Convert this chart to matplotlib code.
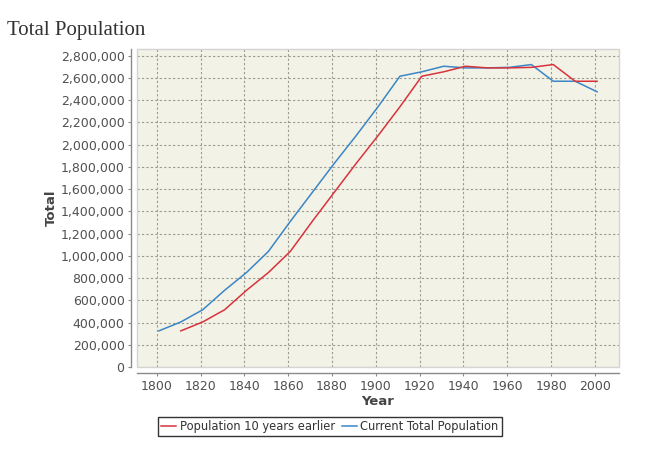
import matplotlib
matplotlib.use("Agg")
import matplotlib.pyplot as plt
from matplotlib.ticker import FuncFormatter, MultipleLocator
from matplotlib.patches import Rectangle

# Data
years_current = [1801, 1811, 1821, 1831, 1841, 1851, 1861, 1871, 1881, 1891, 1901,
                 1911, 1921, 1931, 1941, 1951, 1961, 1971, 1981, 1991, 2001]
current_pop = [325000, 405000, 515000, 690000, 850000, 1040000, 1310000, 1570000,
               1830000, 2080000, 2340000, 2615000, 2655000, 2705000, 2690000,
               2690000, 2695000, 2720000, 2570000, 2570000, 2475000]
years_earlier = [1811, 1821, 1831, 1841, 1851, 1861, 1871, 1881, 1891, 1901, 1911,
                 1921, 1931, 1941, 1951, 1961, 1971, 1981, 1991, 2001]
earlier_pop = [325000, 405000, 515000, 690000, 850000, 1040000, 1310000, 1570000,
               1830000, 2080000, 2340000, 2615000, 2655000, 2705000, 2690000,
               2690000, 2695000, 2720000, 2570000, 2570000]

title = "Total Population"
x_label = "Year"
y_label = "Total"
series_names = ["Population 10 years earlier", "Current Total Population"]

W, H = 653, 466
fig = plt.figure(figsize=(W / 100, H / 100), dpi=100)
L, R, T, B = 137, 619, 49, 367
ax = fig.add_axes([L / W, 1 - B / H, (R - L) / W, (B - T) / H])
ax.set_facecolor("#f3f2e6")

blue = "#3a86c6"
red = "#d8333c"
l2, = ax.plot(years_current, current_pop, color=blue, lw=1.1, zorder=3)
l1, = ax.plot(years_earlier, earlier_pop, color=red, lw=1.1, zorder=4)

ax.set_xlim(1791, 2011)
ax.set_ylim(0, 2860000)
ax.xaxis.set_major_locator(MultipleLocator(20))
ax.yaxis.set_major_locator(MultipleLocator(200000))
ax.yaxis.set_major_formatter(FuncFormatter(lambda v, p: f"{int(v):,}"))

ax.grid(True, color="#9a9a90", linestyle=(0, (2, 2)), linewidth=0.8)
ax.set_axisbelow(True)

for s in ["top", "right"]:
    ax.spines[s].set_visible(False)
for s in ["left", "bottom"]:
    ax.spines[s].set_position(("outward", 4))
    ax.spines[s].set_color("#8a8a8a")
    ax.spines[s].set_linewidth(1.0)
ax.add_patch(Rectangle((0, 0), 1, 1, transform=ax.transAxes, fill=False,
                       edgecolor="#d4d4d4", lw=1.0, zorder=5, clip_on=False))

ax.tick_params(axis="both", length=2, width=0.8, color="#8a8a8a",
               labelsize=9, labelcolor="#505050", pad=3)

ax.set_xlabel(x_label, fontsize=9.5, fontweight="bold", color="#444444", labelpad=2)
ax.set_ylabel(y_label, fontsize=9.5, fontweight="bold", color="#444444", labelpad=2)

fig.text(7 / W, 1 - 31 / H, title, fontsize=15, family="Liberation Serif",
         color="#333333", ha="left", va="center")

leg = fig.legend([l1, l2], series_names, loc="center", bbox_to_anchor=(330 / W, 1 - 426.5 / H),
                 ncol=2, fontsize=8.3, frameon=True, fancybox=False, handlelength=1.3,
                 handletextpad=0.3, columnspacing=0.6, borderpad=0.3, labelcolor="#333333")
leg.get_frame().set_edgecolor("black")
leg.get_frame().set_linewidth(1.0)

fig.savefig("out.png", dpi=100)
